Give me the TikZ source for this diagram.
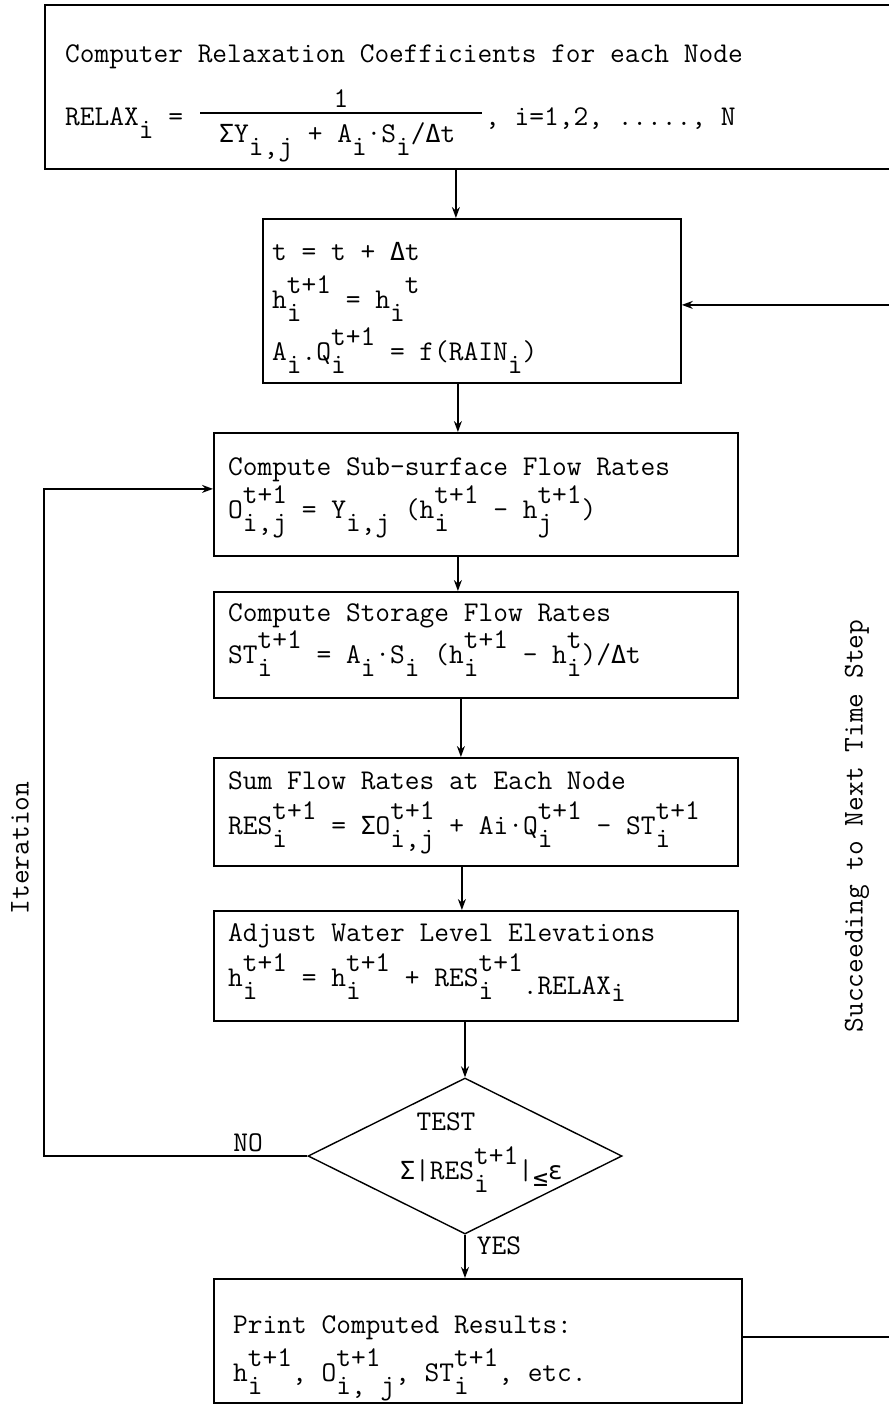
\documentclass[tikz,border=0pt]{standalone}
\usepackage{fontspec}
\newfontfamily\grk{DejaVu Sans Mono}[Scale=0.87]
\usetikzlibrary{arrows.meta,shapes.geometric}
\newsavebox\SUa
\newsavebox\SUb
\newcommand\SU[2]{\sbox\SUa{\raisebox{-0.47em}{#1}}\sbox\SUb{\raisebox{0.5em}{#2}}%
  \ifdim\wd\SUa>\wd\SUb\rlap{\usebox\SUb}\usebox\SUa\else\rlap{\usebox\SUa}\usebox\SUb\fi}
\newcommand\Sig{{\grk Σ}}
\newcommand\Del{{\grk Δ}}
\newcommand\eps{{\grk ε}}
\begin{document}
\begin{tikzpicture}[x=1pt,y=-1pt,
  font=\ttfamily\fontsize{28.6}{34}\selectfont,
  box/.style={draw, line width=1.8pt, rectangle, inner sep=0pt, anchor=north west},
  txt/.style={anchor=base west, inner sep=0pt},
  lbl/.style={inner sep=0pt},
  arr/.style={line width=1.4pt, -{Stealth[length=11pt,width=8pt]}},
  ln/.style={line width=1.3pt}]
\useasboundingbox (0,0) rectangle (889,1409);
\begin{scope}
\clip (0,0) rectangle (889,1409);
% boxes
\node[box, minimum width=861pt, minimum height=164pt] (topbox) at (44,4) {};
\node[box, minimum width=418pt, minimum height=164pt] (b2) at (262,218) {};
\node[box, minimum width=524pt, minimum height=123pt] (b3) at (213,432) {};
\node[box, minimum width=524pt, minimum height=106pt] (b4) at (213,591) {};
\node[box, minimum width=524pt, minimum height=108pt] (b5) at (213,757) {};
\node[box, minimum width=524pt, minimum height=110pt] (b6) at (213,910) {};
\node[draw, diamond, line width=1.4pt, inner sep=0pt, minimum width=314pt, minimum height=156pt] (dia) at (465,1156) {};
\node[box, minimum width=528pt, minimum height=124pt] (pr) at (213,1278) {};
% top box text
\node[txt] (t1) at (65,62) {Computer Relaxation Coefficients for each Node};
\node[txt] (relax) at (65,125) {RELAX\SU{i}{} = };
\node[lbl, anchor=base] (num) at (341,107) {1};
\draw[ln] (200,113) -- (482,113);
\node[txt] (den) at (219,142) {\Sig Y\SU{i,j}{} + A\SU{i}{}·S\SU{i}{}/\Del t};
\node[txt] (rest) at (485,125) {, i=1,2, ....., N};
% box 2
\node[txt] (b2a) at (272,260) {t = t + \Del t};
\node[txt] (b2b) at (272,308) {h\SU{i}{t+1} = h\SU{i}{\ t}};
\node[txt] (b2c) at (272,360) {A\SU{i}{}.Q\SU{i}{t+1} = f(RAIN\SU{i}{})};
% box 3
\node[txt] (b3a) at (228,475) {Compute Sub-surface Flow Rates};
\node[txt] (b3b) at (228,518) {O\SU{i,j}{t+1} = Y\SU{i,j}{}  (h\SU{i}{t+1} - h\SU{j}{t+1})};
% box 4
\node[txt] (b4a) at (228,621) {Compute Storage Flow Rates};
\node[txt] (b4b) at (228,663) {ST\SU{i}{t+1} = A\SU{i}{}·S\SU{i}{} (h\SU{i}{t+1} - h\SU{i}{t})/\Del t};
% box 5
\node[txt] (b5a) at (228,789) {Sum Flow Rates at Each Node};
\node[txt] (b5b) at (228,834) {RES\SU{i}{t+1} = \Sig O\SU{i,j}{t+1} + Ai·Q\SU{i}{t+1} - ST\SU{i}{t+1}};
% box 6
\node[txt] (b6a) at (228,941) {Adjust Water Level Elevations};
\node[txt] (b6b) at (228,986) {h\SU{i}{t+1} = h\SU{i}{t+1} + RES\SU{i}{t+1}\raisebox{-0.3em}{.RELAX}\raisebox{-0.55em}{i}};
% diamond text
\node[lbl, anchor=base] (test) at (446,1130) {TEST};
\node[txt] (testf) at (400,1179) {\Sig|RES\SU{i}{t+1}|\raisebox{-0.25em}{\grk ≤}\eps};
% print box
\node[txt] (pra) at (233,1333) {Print Computed Results:};
\node[txt] (prb) at (233,1381) {h\SU{i}{t+1}, O\SU{i, j}{t+1}, ST\SU{i}{t+1}, etc.};
% side labels
\node[lbl, rotate=90] (iter) at (20,848) {Iteration};
\node[lbl, rotate=90] (succ) at (857,826) {Succeeding to Next Time Step};
\node[lbl] (no) at (248,1143) {NO};
\node[lbl] (yes) at (499,1246) {YES};
% connectors
\coordinate (a1) at ([xshift=-16pt]b2.north);
\draw[arr] (a1 |- topbox.south) -- (a1);
\coordinate (a2) at ([xshift=-14pt]b2.south);
\draw[arr] (a2) -- (a2 |- b3.north);
\coordinate (a3) at ([xshift=-18pt]b3.south);
\draw[arr] (a3) -- (a3 |- b4.north);
\coordinate (a4) at ([xshift=-15pt]b4.south);
\draw[arr] (a4) -- (a4 |- b5.north);
\coordinate (a5) at ([xshift=-14pt]b5.south);
\draw[arr] (a5) -- (a5 |- b6.north);
\draw[arr] (dia.north |- b6.south) -- (dia.north);
\draw[arr] (dia.south) -- (dia.south |- pr.north);
% iteration loop
\coordinate (itx) at (44,0);
\coordinate (itin) at ([yshift=5.5pt]b3.west);
\draw[arr] (dia.west) -- (dia.west -| itx) |- (itin);
% next time step loop
\coordinate (rx) at (897,0);
\coordinate (pout) at ([yshift=4pt]pr.east);
\coordinate (b2in) at ([yshift=-4pt]b2.east);
\draw[arr] (pout) -- (pout -| rx) |- (b2in);
\end{scope}
\end{tikzpicture}
\end{document}
